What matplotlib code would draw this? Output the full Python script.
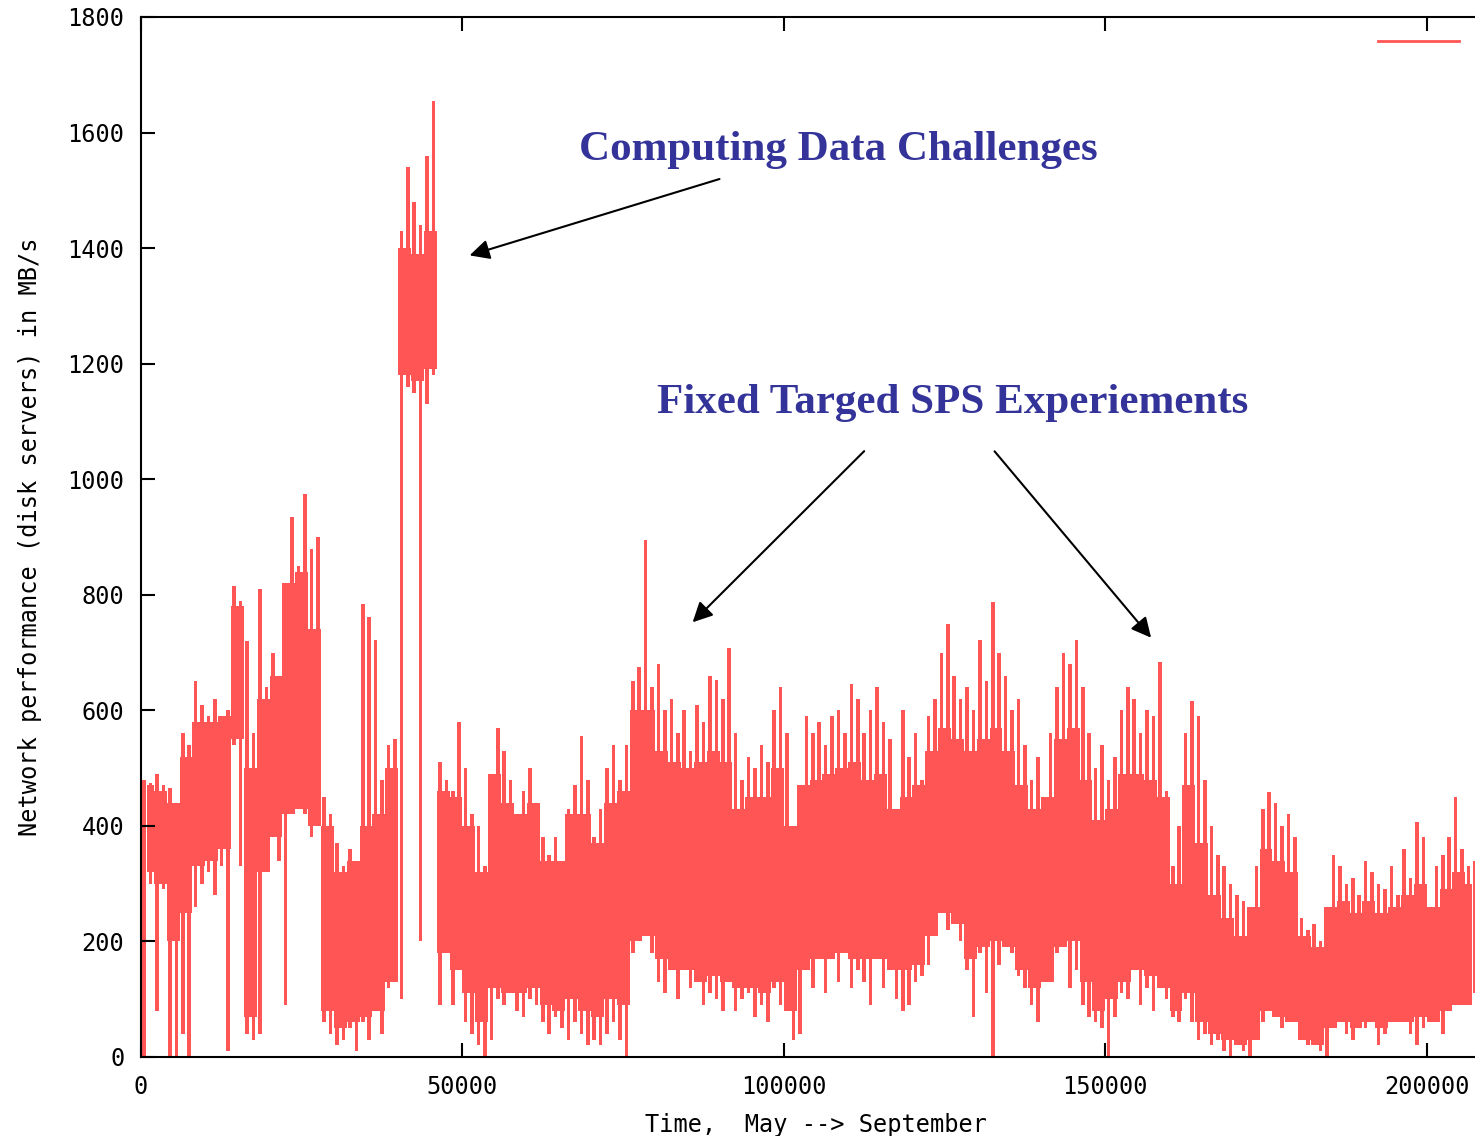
import numpy as np
import matplotlib.pyplot as plt

# bin widths of the sampled series (x axis units)
BIN = 1000
CORE_BIN = 2000

# highest reading in each 1000-unit bin (MB/s)
traffic_high = [
    480, 475, 490, 470, 465, 430, 560, 540, 650, 610,      # 0k
    590, 620, 580, 600, 815, 790, 720, 560, 810, 640,      # 10k
    700, 620, 700, 935, 850, 975, 880, 900, 450, 420,      # 20k
    370, 330, 360, 340, 784, 762, 722, 480, 540, 550,      # 30k
    1430, 1540, 1480, 1440, 1560, 1655, 510, 480, 460, 580,  # 40k
    500, 420, 400, 330, 380, 570, 530, 480, 420, 460,      # 50k
    500, 420, 380, 350, 380, 330, 430, 470, 555, 480,      # 60k
    380, 430, 500, 540, 480, 540, 650, 675, 895, 640,      # 70k
    680, 600, 620, 560, 600, 530, 610, 580, 660, 652,      # 80k
    620, 708, 560, 480, 520, 500, 540, 510, 600, 640,      # 90k
    560, 370, 380, 590, 560, 580, 540, 590, 600, 560,      # 100k
    646, 620, 560, 600, 640, 580, 550, 420, 600, 520,      # 110k
    560, 480, 590, 620, 700, 750, 660, 620, 640, 600,      # 120k
    722, 650, 787, 700, 660, 600, 620, 540, 480, 520,      # 130k
    450, 560, 640, 700, 680, 722, 640, 560, 500, 540,      # 140k
    480, 520, 600, 640, 620, 560, 600, 590, 684, 460,      # 150k
    330, 400, 560, 617, 590, 480, 400, 350, 330, 300,      # 160k
    280, 270, 260, 330, 430, 459, 440, 400, 420, 380,      # 170k
    240, 220, 230, 200, 240, 350, 330, 300, 310, 280,      # 180k
    340, 320, 300, 290, 330, 280, 360, 310, 407, 380,      # 190k
    260, 330, 350, 380, 450, 360, 330, 340,                # 200k
]

# lowest reading in each 1000-unit bin (MB/s)
traffic_low = [
    0, 300, 80, 290, 0, 0, 40, 0, 260, 300,
    320, 280, 330, 10, 540, 330, 40, 30, 40, 350,
    420, 340, 90, 600, 500, 420, 380, 520, 60, 40,
    20, 30, 50, 10, 60, 30, 90, 40, 120, 160,
    100, 1160, 1150, 200, 1130, 1180, 90, 190, 90, 150,
    60, 40, 20, 0, 30, 100, 90, 120, 80, 70,
    100, 90, 60, 40, 70, 50, 30, 60, 40, 20,
    30, 20, 40, 60, 30, 0, 180, 200, 240, 180,
    130, 110, 150, 100, 160, 120, 130, 90, 110, 100,
    80, 140, 80, 100, 110, 70, 90, 60, 120, 90,
    80, 30, 40, 150, 120, 180, 110, 170, 130, 200,
    120, 150, 130, 90, 170, 120, 150, 100, 80, 90,
    130, 140, 160, 230, 250, 220, 280, 200, 150, 70,
    180, 110, 0, 160, 250, 180, 140, 120, 90, 60,
    140, 130, 180, 200, 120, 150, 90, 70, 60, 50,
    0, 70, 110, 100, 150, 90, 120, 80, 130, 100,
    70, 60, 100, 60, 30, 40, 20, 30, 10, 0,
    20, 10, 0, 30, 60, 110, 80, 50, 90, 60,
    40, 20, 30, 10, 0, 60, 90, 40, 30, 70,
    50, 60, 20, 40, 70, 100, 60, 40, 20, 50,
    90, 60, 40, 120, 100, 120, 90, 110,
]

# band where the trace looks solid, one value per 2000-unit bin (MB/s)
core_low = [
    320, 300, 200, 250, 330, 340, 360, 550, 70, 320,
    380, 420, 430, 400, 80, 50, 60, 70, 80, 130,
    1180, 1170, 1190, 180, 150, 110, 60, 120, 110, 110,
    120, 90, 80, 100, 80, 70, 100, 90, 200, 210,
    170, 150, 150, 130, 140, 130, 120, 120, 110, 130,
    80, 150, 170, 170, 180, 170, 170, 170, 150, 150,
    160, 210, 250, 230, 170, 190, 200, 190, 150, 120,
    130, 190, 200, 130, 80, 100, 130, 150, 140, 120,
    80, 110, 60, 40, 30, 20, 30, 80, 70, 60,
    30, 20, 50, 60, 50, 60, 50, 60, 60, 70,
    60, 80, 90, 90,
]
core_high = [
    470, 460, 440, 520, 580, 580, 590, 780, 500, 620,
    660, 820, 840, 740, 400, 320, 340, 400, 420, 500,
    1400, 1390, 1430, 460, 450, 400, 320, 490, 440, 420,
    440, 340, 340, 420, 420, 370, 440, 460, 600, 600,
    530, 510, 500, 510, 530, 510, 430, 450, 450, 500,
    400, 470, 480, 490, 500, 510, 480, 490, 430, 450,
    470, 530, 570, 550, 530, 550, 570, 530, 470, 430,
    450, 550, 570, 480, 410, 430, 490, 490, 480, 450,
    300, 470, 370, 280, 240, 210, 260, 360, 340, 320,
    210, 190, 260, 270, 250, 270, 250, 260, 280, 300,
    260, 290, 320, 300,
]

x_ticks = [0, 50000, 100000, 150000, 200000]
y_ticks = [0, 200, 400, 600, 800, 1000, 1200, 1400, 1600, 1800]

RED = '#ff5555'
BLUE = '#333399'
mono = 'DejaVu Sans Mono'

fig = plt.figure(figsize=(14.75, 11.36), dpi=100)
# the plot box runs past the right edge of the picture, like the original
ax = fig.add_axes([141 / 1475, 1 - 1057 / 1136, 1350 / 1475, 1040 / 1136])

# solid middle of the trace
xc = np.arange(len(core_low)) * CORE_BIN + CORE_BIN / 2
ax.fill_between(xc, core_low, core_high, step='mid', color=RED, lw=0)

# each bin's swing from minimum to maximum as a narrow stroke
xb = np.arange(len(traffic_high)) * BIN + BIN / 2
lo = np.array(traffic_low)
hi = np.array(traffic_high)
ax.bar(xb, hi - lo, bottom=lo, width=BIN * 0.55, color=RED, lw=0)

# empty gnuplot key sample, top right
ax.plot([0.916, 0.976], [0.977, 0.977], color=RED, lw=2, transform=ax.transAxes)

ax.set_xlim(0, 210000)
ax.set_ylim(0, 1800)
ax.set_xticks(x_ticks)
ax.set_xticklabels([str(t) for t in x_ticks])
ax.set_yticks(y_ticks)
ax.set_yticklabels([str(t) for t in y_ticks])
ax.tick_params(direction='in', length=10, width=1.5, top=True, right=True,
               labelsize=17)
ax.tick_params(axis='x', pad=13)
ax.tick_params(axis='y', pad=12)
for lbl in ax.get_xticklabels() + ax.get_yticklabels():
    lbl.set_family(mono)
for sp in ax.spines.values():
    sp.set_linewidth(1.5)

ax.set_xlabel('Time,  May --> September', family=mono, fontsize=17, labelpad=10)
ax.set_ylabel('Network performance (disk servers) in MB/s', family=mono,
              fontsize=17, labelpad=18)

# annotations
serif = dict(family='Liberation Serif', weight='bold', fontsize=31, color=BLUE,
             ha='center', va='center')
arrow = dict(arrowstyle='-|>', color='black', lw=1.5, mutation_scale=30)
ax.text(108500, 1570, 'Computing Data Challenges', **serif)
ax.annotate('', xy=(50700, 1386), xytext=(90400, 1521), arrowprops=arrow)
ax.text(126300, 1132, 'Fixed Targed SPS Experiements', **serif)
ax.annotate('', xy=(85500, 749), xytext=(112800, 1052), arrowprops=arrow)
ax.annotate('', xy=(157400, 722), xytext=(132500, 1052), arrowprops=arrow)

fig.savefig('out.png', dpi=100)
